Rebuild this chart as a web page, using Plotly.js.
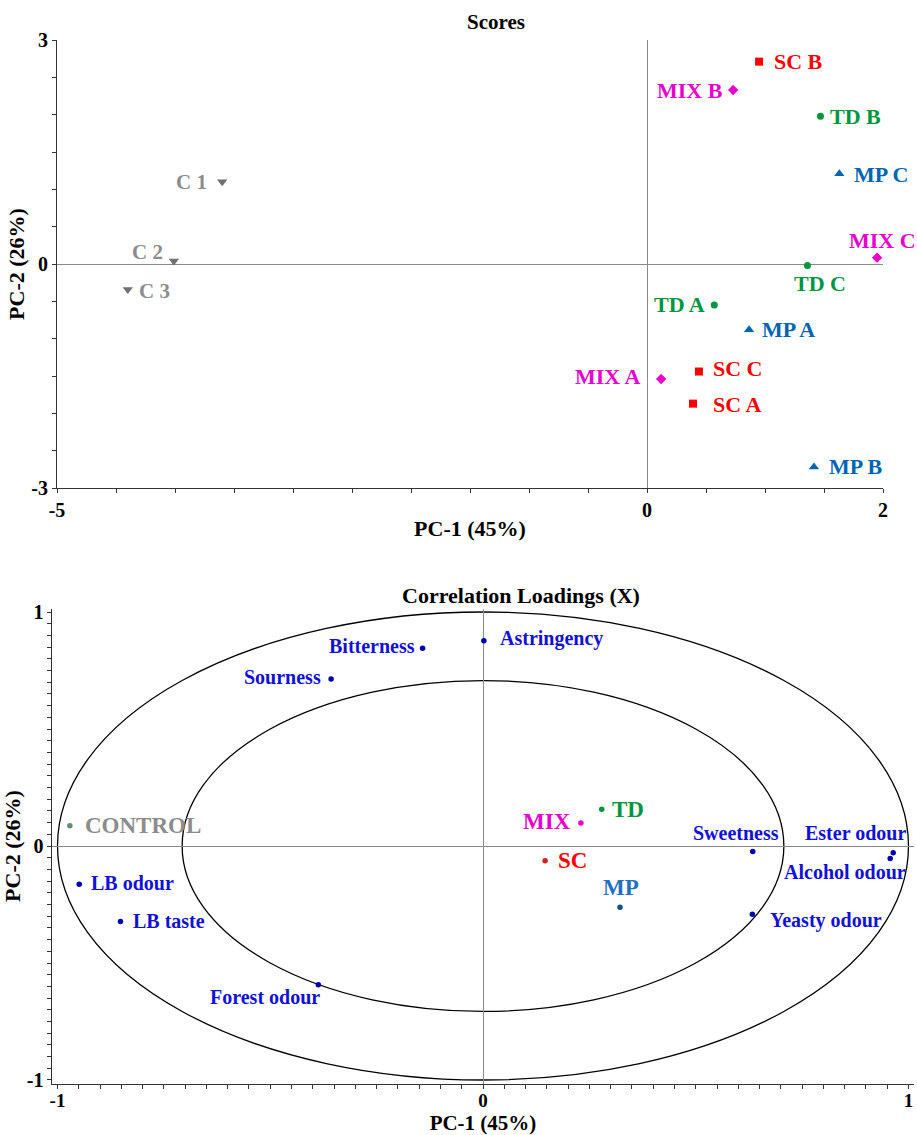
<!DOCTYPE html>
<html>
<head>
<meta charset="utf-8">
<script src="https://cdn.plot.ly/plotly-3.0.1.min.js"></script>
<style>html,body{margin:0;padding:0;background:#fff;}#chart{width:917px;height:1135px;}</style>
</head>
<body>
<div id="chart"></div>
<script>
// ---------- Scores (PC-1 vs PC-2) ----------
const scLabels  = ['SC A', 'SC B', 'SC C'];
const scPC1     = [0.39, 0.95, 0.44];
const scPC2     = [-1.87, 2.71, -1.44];

const mixLabels = ['MIX A', 'MIX B', 'MIX C'];
const mixPC1    = [0.12, 0.73, 1.95];
const mixPC2    = [-1.54, 2.33, 0.085];

const tdLabels  = ['TD A', 'TD B', 'TD C'];
const tdPC1     = [0.57, 1.47, 1.36];
const tdPC2     = [-0.55, 1.98, -0.02];

const mpLabels  = ['MP A', 'MP B', 'MP C'];
const mpPC1     = [0.865, 1.415, 1.63];
const mpPC2     = [-0.88, -2.72, 1.21];

const ctrlLabels = ['C 1', 'C 2', 'C 3'];
const ctrlPC1    = [-3.60, -4.01, -4.40];
const ctrlPC2    = [1.10, 0.04, -0.34];

// ---------- Correlation loadings ----------
const attrLabels = ['Astringency', 'Bitterness', 'Sourness', 'Sweetness', 'Ester odour',
                    'Alcohol odour', 'Yeasty odour', 'LB odour', 'LB taste', 'Forest odour'];
const attrPC1    = [0.002, -0.142, -0.357, 0.634, 0.964, 0.957, 0.633, -0.949, -0.852, -0.387];
const attrPC2    = [0.877, 0.845, 0.714, -0.024, -0.029, -0.053, -0.292, -0.164, -0.323, -0.593];

const sampleLabels = ['CONTROL', 'MIX', 'TD', 'SC', 'MP'];
const samplePC1    = [-0.971, 0.230, 0.279, 0.146, 0.322];
const samplePC2    = [0.087, 0.098, 0.157, -0.063, -0.262];

const circleRadii = [1.0, 0.7071];

// ---------- Tick labels / titles ----------
const scoresXTicks = [-5, 0, 2];
const scoresYTicks = [-3, 0, 3];
const loadXTicks   = [-1, 0, 1];
const loadYTicks   = [-1, 0, 1];
const titleScores  = 'Scores';
const titleLoad    = 'Correlation Loadings (X)';
const xTitle       = 'PC-1 (45%)';
const yTitle       = 'PC-2 (26%)';

// ---------- Styling (label placement: [xanchor, xshift, yshift]) ----------
const SERIF = '"Liberation Serif", "Times New Roman", serif';
const W = 917, H = 1135;
const scPlace   = [['left', 18, -1], ['left', 13, 0], ['left', 12, 3]];
const mixPlace  = [['right', -18, 2], ['right', -8, 0], ['center', 5, 17]];
const tdPlace   = [['right', -7, 1], ['left', 8, 0], ['center', 13, -18]];
const mpPlace   = [['left', 11, 0], ['left', 13, 1], ['left', 13, -1]];
const ctrlPlace = [['right', -13, 0], ['right', -9, 9], ['left', 9, -2]];
const attrPlace = [['left', 14, 2], ['right', -6, 2], ['right', -8, 2], ['center', -17, 19], ['right', 15, 20],
                   ['right', 18, -14], ['left', 16, -6], ['left', 10, 1], ['left', 11, 1], ['right', 4, -12]];
const samplePlace = [['left', 13, 0], ['right', -8, 2], ['left', 8, 0], ['left', 11, 0], ['center', 1, 20]];

const traces = [];
const annotations = [];

function addGroup(xs, ys, labels, place, symbol, size, mColor, tColor, tSize, xa, ya) {
  traces.push({
    type: 'scatter', mode: 'markers', x: xs, y: ys, text: labels, xaxis: xa, yaxis: ya,
    marker: {symbol: symbol, size: size, color: mColor, line: {width: 0}},
    hoverinfo: 'text', cliponaxis: false
  });
  labels.forEach((lab, i) => {
    const p = place[i];
    annotations.push({
      x: xs[i], y: ys[i], xref: xa, yref: ya, text: lab, showarrow: false,
      xanchor: p[0], yanchor: 'middle', xshift: p[1], yshift: p[2],
      font: {family: SERIF, size: tSize, color: Array.isArray(tColor) ? tColor[i] : tColor, weight: 700}
    });
  });
}

// Scores groups
addGroup(scPC1, scPC2, scLabels, scPlace, 'square', 8, '#ff0000', '#ff0000', 22, 'x', 'y');
addGroup(mixPC1, mixPC2, mixLabels, mixPlace, 'diamond', 8, '#e800cc', '#e800cc', 22, 'x', 'y');
addGroup(tdPC1, tdPC2, tdLabels, tdPlace, 'circle', 7, '#009640', '#009640', 22, 'x', 'y');
addGroup(mpPC1, mpPC2, mpLabels, mpPlace, 'triangle-up', 9, '#0064b4', '#0064b4', 22, 'x', 'y');
addGroup(ctrlPC1, ctrlPC2, ctrlLabels, ctrlPlace, 'triangle-down', 9, '#707070', '#8c8c8c', 21, 'x', 'y');

// Loadings groups
addGroup(attrPC1, attrPC2, attrLabels, attrPlace, 'circle', 5.5, '#0000b0', '#1010d8', 20, 'x2', 'y2');
addGroup(samplePC1, samplePC2, sampleLabels, samplePlace, 'circle', 5.5,
         ['#5f8f6f', '#e800cc', '#009640', '#d02020', '#0a5096'],
         ['#8c8c8c', '#e800cc', '#009640', '#ff0000', '#1f70c0'], 23, 'x2', 'y2');

annotations.push({
  text: titleLoad, xref: 'paper', yref: 'paper', x: 521 / W, y: 1 - 595 / H,
  xanchor: 'center', yanchor: 'middle', showarrow: false,
  font: {family: SERIF, size: 22, color: '#000', weight: 700}
});

const shapes = circleRadii.map(r => ({
  type: 'circle', xref: 'x2', yref: 'y2', x0: -r, x1: r, y0: -r, y1: r,
  line: {color: '#000', width: 1.3}, layer: 'below'
}));

function axisBase(extra) {
  return Object.assign({
    showline: true, linecolor: '#333', linewidth: 1, mirror: false,
    showgrid: false, zeroline: true, zerolinecolor: '#8a8a8a', zerolinewidth: 1,
    ticks: 'outside', ticklen: 4, tickwidth: 1, tickcolor: '#333',
    tickmode: 'array', tickfont: {family: SERIF, size: 20, color: '#000', weight: 700},
    fixedrange: true
  }, extra);
}

const layout = {
  width: W, height: H,
  margin: {l: 0, r: 0, t: 0, b: 0},
  paper_bgcolor: '#fff', plot_bgcolor: '#fff', showlegend: false,
  font: {family: SERIF, color: '#000'},
  title: {text: titleScores, xref: 'paper', yref: 'paper', x: 496 / W, y: 1 - 22 / H,
          xanchor: 'center', yanchor: 'middle', font: {family: SERIF, size: 21, weight: 700, color: '#000'}},
  xaxis: axisBase({
    domain: [57 / W, 883 / W], range: [-5, 2], anchor: 'y',
    tickvals: scoresXTicks, ticktext: scoresXTicks.map(String),
    minor: {tick0: -5, dtick: 0.5, ticks: 'outside', ticklen: 4, tickcolor: '#333', showgrid: false},
    title: {text: xTitle, standoff: 0, font: {family: SERIF, size: 22, weight: 700, color: '#000'}}
  }),
  yaxis: axisBase({
    domain: [1 - 488 / H, 1 - 40 / H], range: [-3, 3], anchor: 'x',
    tickvals: scoresYTicks, ticktext: scoresYTicks.map(String),
    minor: {tick0: -3, dtick: 0.5, ticks: 'outside', ticklen: 4, tickcolor: '#333', showgrid: false},
    title: {text: yTitle, standoff: 0, font: {family: SERIF, size: 22, weight: 700, color: '#000'}}
  }),
  xaxis2: axisBase({
    domain: [52.4 / W, 913.6 / W], range: [-1.012, 1.012], anchor: 'y2',
    tickvals: loadXTicks, ticktext: loadXTicks.map(String),
    tickfont: {family: SERIF, size: 19, color: '#000', weight: 700},
    ticklabelstandoff: -4,
    minor: {tick0: -1, dtick: 0.05, ticks: 'outside', ticklen: 4, tickcolor: '#333', showgrid: false},
    title: {text: xTitle, standoff: 8, font: {family: SERIF, size: 21, weight: 700, color: '#000'}}
  }),
  yaxis2: axisBase({
    domain: [1 - 1083.5 / H, 1 - 608.5 / H], range: [-1.015, 1.015], anchor: 'x2',
    tickvals: loadYTicks, ticktext: loadYTicks.map(String),
    minor: {tick0: -1, dtick: 0.05, ticks: 'outside', ticklen: 4, tickcolor: '#333', showgrid: false},
    title: {text: yTitle, standoff: 0, font: {family: SERIF, size: 22, weight: 700, color: '#000'}}
  }),
  shapes: shapes,
  annotations: annotations
};

Plotly.newPlot('chart', traces, layout, {displayModeBar: false, staticPlot: true});
</script>
</body>
</html>
